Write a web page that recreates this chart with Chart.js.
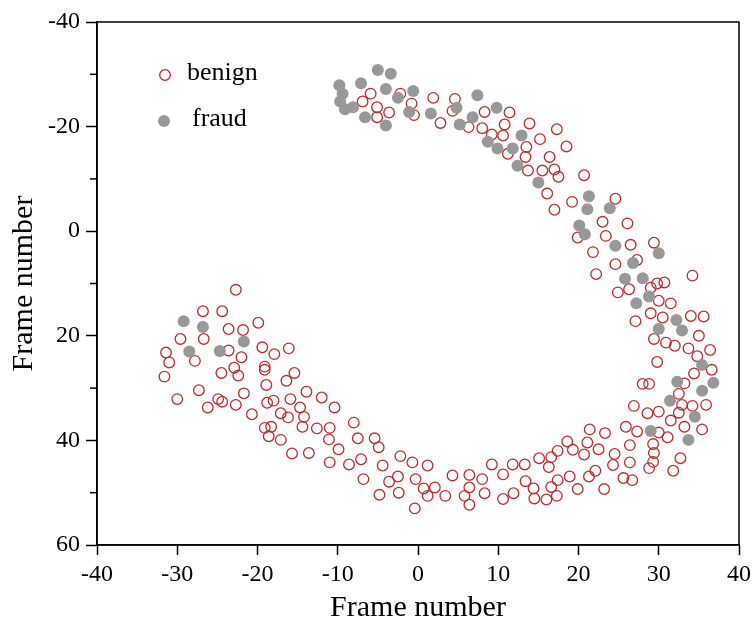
<!DOCTYPE html>
<html>
<head>
<meta charset="utf-8">
<script src="https://cdn.jsdelivr.net/npm/chart.js@4"></script>
<style>
  body { margin: 0; background: #fff; }
  #wrap { width: 756px; height: 630px; }
</style>
</head>
<body>
<div id="wrap"><canvas id="myChart" width="756" height="630"></canvas></div>
<script>
const seriesNames = ['benign', 'fraud']
const xTitle = 'Frame number'
const yTitle = 'Frame number'

// [x, y] pairs
const fraud = [
  [-5.0,-30.8],[-3.4,-30.1],[-9.8,-27.9],[-7.1,-28.3],[-4.0,-27.2],[-0.6,-26.8],[-9.4,-26.3],[-2.5,-25.5],
  [-9.7,-24.8],[-8.1,-23.7],[-9.1,-23.3],[-6.6,-21.8],[-4.0,-20.2],[-1.1,-22.8],[1.6,-22.5],[4.8,-23.6],
  [7.4,-26.0],[5.2,-20.4],[6.8,-21.8],[9.8,-23.6],[8.7,-17.1],[9.9,-15.8],[11.8,-15.8],[12.9,-18.3],
  [12.4,-12.5],[15.0,-9.3],[21.3,-6.7],[21.1,-4.2],[23.9,-4.4],[20.1,-1.1],[20.8,0.6],[24.6,2.8],
  [30.0,4.2],[26.8,6.1],[25.8,9.1],[28.0,9.0],[28.8,12.5],[27.2,13.8],[32.2,17.0],[30.0,18.7],
  [32.9,19.0],[35.4,25.6],[32.3,28.8],[36.8,29.0],[35.4,30.5],[31.4,32.4],[34.5,35.5],[29.0,38.2],
  [33.7,39.9],[-29.2,17.2],[-26.8,18.3],[-21.7,21.1],[-28.5,23.0],[-24.7,22.9]
]

const benign = [
  [-5.9,-26.3],[-6.9,-24.8],[-5.1,-23.7],[-3.6,-22.7],[-5.1,-21.8],[-2.2,-26.3],[-0.8,-24.4],[-0.5,-22.2],
  [1.9,-25.5],[2.8,-20.7],[4.6,-25.3],[4.3,-23.0],[6.3,-19.9],[8.3,-22.8],[8.0,-19.7],[9.2,-18.5],
  [10.6,-18.3],[11.4,-22.7],[10.8,-20.4],[11.2,-14.8],[13.4,-14.2],[13.7,-11.6],[13.9,-20.6],[13.5,-16.1],
  [17.3,-19.5],[15.2,-17.6],[18.5,-16.2],[16.4,-14.2],[15.5,-11.6],[17.0,-11.8],[17.5,-10.4],[20.7,-10.7],
  [16.1,-7.2],[19.2,-5.6],[24.6,-6.2],
  [17.0,-4.1],[23.0,-1.8],[26.1,-1.5],[19.9,1.2],[23.4,0.9],[26.5,2.6],[29.4,2.2],[21.8,4.0],
  [27.3,5.5],[24.6,6.3],[22.2,8.2],[34.2,8.5],[24.9,11.7],[26.3,11.1],[29.0,10.8],[29.8,10.0],
  [30.7,9.8],[30.0,13.3],[31.5,13.8],[29.0,15.7],[30.5,16.5],[27.1,17.2],[34.0,16.2],[35.6,16.3],
  [29.4,20.6],[30.9,21.3],[32.0,21.9],[35.0,20.0],[33.7,22.4],[36.4,22.7],[34.8,23.9],[29.8,25.0],
  [36.6,26.5],[34.4,27.2],
  [28.0,29.2],[28.8,29.2],[33.2,29.1],[32.5,31.1],[26.9,33.4],[28.6,34.8],[30.0,34.5],[32.9,33.2],
  [34.2,33.4],[35.9,33.2],[32.5,34.7],[31.5,36.2],[33.2,37.4],[35.4,37.9],[25.9,37.4],[27.3,38.3],
  [30.0,38.5],[31.1,39.4],[21.4,37.9],[23.3,38.6],[26.4,40.9],[29.3,40.7],[29.4,42.4],[18.6,40.2],
  [21.1,40.4],[22.5,41.7],[20.7,42.7],[19.3,41.8],[17.4,42.0],[16.6,43.2],[15.1,43.4],[24.5,42.6],
  [24.3,44.7],[26.4,44.2],[29.3,44.1],[32.7,43.4],[28.8,45.3],[31.8,45.8],[13.3,44.6],[16.3,45.1],
  [22.1,45.8],[21.3,46.9],[18.9,46.9],[17.4,47.6],[25.6,47.2],[26.7,47.6],[13.4,47.8],[14.4,49.2],
  [16.6,48.9],[19.9,49.3],[23.2,49.3],[14.5,51.1],[16.0,51.3],[17.3,50.6],
  [-13.9,30.7],[-12.0,31.8],[-10.4,33.7],[-12.6,37.7],[-11.0,37.6],[-11.1,39.8],[-9.9,41.7],[-13.6,42.4],
  [-11.0,44.2],[-8.6,44.6],[-7.1,43.6],[-8.0,36.6],[-7.5,39.6],[-5.4,39.6],[-4.9,41.3],[-6.8,47.4],
  [-4.4,44.8],[-2.2,43.0],[-0.7,44.2],[1.2,44.8],[-2.5,46.9],[-3.6,47.9],[-4.8,50.4],[-2.4,50.0],
  [-0.3,47.4],[0.7,49.2],[2.1,49.0],[1.2,50.6],[-0.4,53.0],[3.4,50.6],[4.3,46.7],[6.4,46.6],
  [6.4,49.0],[5.8,50.6],[6.4,52.3],[8.0,47.4],[8.3,50.1],[9.2,44.6],[10.6,46.5],[11.8,44.6],
  [10.6,51.2],[11.9,50.1],
  [-31.6,27.8],[-24.5,27.1],[-22.4,27.6],[-19.1,26.5],[-15.4,27.1],[-18.9,29.4],[-16.4,28.6],[-30.0,32.1],
  [-27.3,30.4],[-24.9,32.1],[-24.4,32.6],[-26.2,33.7],[-22.7,33.2],[-21.7,31.0],[-18.8,32.8],[-18.0,32.4],
  [-15.9,32.1],[-20.7,35.0],[-17.1,34.8],[-16.2,35.6],[-14.7,33.7],[-14.2,35.5],[-19.1,37.6],[-18.3,37.4],
  [-18.6,39.2],[-17.1,39.9],[-14.4,37.4],[-15.7,42.5],
  [-22.7,11.2],[-26.8,15.3],[-24.4,15.3],[-19.9,17.5],[-23.6,18.7],[-21.8,18.9],[-29.6,20.6],[-26.7,20.6],
  [-31.4,23.2],[-31.0,25.1],[-27.8,24.8],[-23.6,22.8],[-22.0,24.1],[-19.4,22.2],[-17.9,23.5],[-16.1,22.4],
  [-19.1,25.9],[-22.9,26.1]
]

const serif = 'Liberation Serif'
const redEdge = 'rgb(192,42,42)'
const grayFill = 'rgb(152,152,152)'

// box round the plot + short minor ticks on the y axis
const frameBox = {
  id: 'frameBox',
  afterDraw(chart) {
    const {ctx, chartArea, scales} = chart
    ctx.save()
    ctx.strokeStyle = '#000'
    ctx.lineWidth = 1.5
    ctx.strokeRect(chartArea.left, chartArea.top, chartArea.right - chartArea.left, chartArea.bottom - chartArea.top)
    const yTicks = scales.y.ticks
    for (let i = 0; i < yTicks.length - 1; i++) {
      const mid = (yTicks[i].value + yTicks[i + 1].value) / 2
      const py = scales.y.getPixelForValue(mid)
      ctx.beginPath()
      ctx.moveTo(chartArea.left - 7, py)
      ctx.lineTo(chartArea.left, py)
      ctx.stroke()
    }
    ctx.restore()
  }
}

// legend sits inside the plot, top left
const innerLegend = {
  id: 'innerLegend',
  afterDraw(chart) {
    const {ctx, chartArea} = chart
    const lx = chartArea.left + 68
    const ly = chartArea.top + 53
    ctx.save()
    ctx.font = '26px "' + serif + '"'
    ctx.fillStyle = '#000'
    ctx.textBaseline = 'middle'

    ctx.beginPath()
    ctx.arc(lx, ly, 5.3, 0, Math.PI * 2)
    ctx.strokeStyle = redEdge
    ctx.lineWidth = 1.3
    ctx.stroke()
    ctx.fillText(seriesNames[0], lx + 22, ly - 2)

    ctx.beginPath()
    ctx.arc(lx - 1, ly + 46, 6, 0, Math.PI * 2)
    ctx.fillStyle = grayFill
    ctx.fill()
    ctx.fillStyle = '#000'
    ctx.fillText(seriesNames[1], lx + 27, ly + 44)
    ctx.restore()
  }
}

function toPoints(list) {
  return list.map(p => ({x: p[0], y: p[1]}))
}

const ctx = document.getElementById('myChart')
const myChart = new Chart(ctx, {
  type: 'scatter',
  data: {
    datasets: [
      {
        label: seriesNames[1],
        data: toPoints(fraud),
        backgroundColor: grayFill,
        borderWidth: 0,
        pointRadius: 6,
        order: 0
      },
      {
        label: seriesNames[0],
        data: toPoints(benign),
        backgroundColor: 'rgba(255,255,255,0)',
        borderColor: redEdge,
        borderWidth: 1.3,
        pointRadius: 5.3,
        order: 1
      }
    ]
  },
  options: {
    responsive: false,
    animation: false,
    layout: { padding: { top: 22, right: 16, left: 0, bottom: 0 } },
    plugins: { legend: { display: false }, tooltip: { enabled: false } },
    scales: {
      x: {
        type: 'linear',
        min: -40,
        max: 40,
        ticks: { stepSize: 10, color: '#000', padding: 5, font: { family: serif, size: 24 } },
        grid: { drawOnChartArea: false, drawTicks: true, tickLength: 10, tickColor: '#000', tickWidth: 1.5 },
        border: { color: '#000', width: 1.5 },
        title: { display: true, text: xTitle, color: '#000', font: { family: serif, size: 30 }, padding: { top: 0, bottom: 4 } },
        afterFit: s => { s.height = 85 }
      },
      y: {
        type: 'linear',
        min: -40,
        max: 60,
        reverse: true,
        ticks: { stepSize: 20, color: '#000', padding: 6, font: { family: serif, size: 24 } },
        grid: { drawOnChartArea: false, drawTicks: true, tickLength: 11, tickColor: '#000', tickWidth: 1.5 },
        border: { color: '#000', width: 1.5 },
        title: { display: true, text: yTitle, color: '#000', font: { family: serif, size: 30 }, padding: { top: 6, bottom: 0 } },
        afterFit: s => { s.width = 97 }
      }
    }
  },
  plugins: [frameBox, innerLegend]
})
</script>
</body>
</html>
